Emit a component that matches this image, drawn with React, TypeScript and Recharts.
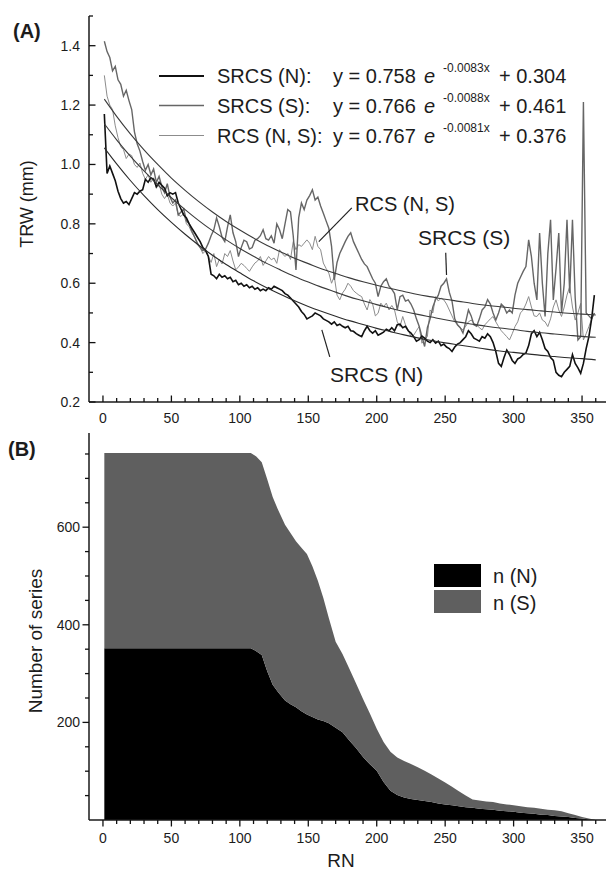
import React from 'react';
import { LineChart, Line, XAxis, YAxis, ReferenceLine, AreaChart, Area } from 'recharts';

const FONT = '"Liberation Sans", Arial, Helvetica, sans-serif';
const TEXT = '#1c1c1c';
const AXIS = '#1a1a1a';

// ---------- shared axis data ----------
const X_DOMAIN: [number, number] = [-10.2, 367.5];
const X_TICKS = [0, 10, 20, 30, 40, 50, 60, 70, 80, 90, 100, 110, 120, 130, 140, 150, 160, 170, 180, 190, 200, 210, 220, 230, 240, 250, 260, 270, 280, 290, 300, 310, 320, 330, 340, 350, 360];
const X_LABELS = [0, 50, 100, 150, 200, 250, 300, 350];

// ---------- panel A ----------
const A_Y_DOMAIN: [number, number] = [0.2, 1.5];
const A_Y_TICKS = [0.2, 0.3, 0.4, 0.5, 0.6, 0.7, 0.8, 0.9, 1.0, 1.1, 1.2, 1.3, 1.4, 1.5];
const A_Y_LABELS = [0.2, 0.4, 0.6, 0.8, 1.0, 1.2, 1.4];

// ring-width series, RN = 1, 3, 5, ... 359
const SRCS_N = [
  1.17, 0.97, 0.995, 0.97, 0.945, 0.91, 0.885, 0.87, 0.875, 0.865,
  0.885, 0.905, 0.9, 0.91, 0.915, 0.95, 0.94, 0.955, 0.95, 0.925,
  0.94, 0.93, 0.92, 0.895, 0.905, 0.9, 0.905, 0.87, 0.85, 0.83,
  0.82, 0.8, 0.785, 0.77, 0.755, 0.74, 0.72, 0.71, 0.69, 0.63,
  0.625, 0.615, 0.63, 0.62, 0.625, 0.615, 0.62, 0.605, 0.61, 0.595,
  0.6, 0.59, 0.595, 0.585, 0.59, 0.58, 0.585, 0.575, 0.58, 0.575,
  0.585, 0.58, 0.59, 0.585, 0.58, 0.575, 0.565, 0.56, 0.55, 0.54,
  0.53, 0.52, 0.505, 0.495, 0.48, 0.485, 0.49, 0.5, 0.495, 0.49,
  0.48, 0.475, 0.47, 0.462, 0.47, 0.458, 0.462, 0.455, 0.45, 0.455,
  0.44, 0.438, 0.43, 0.425, 0.42, 0.44, 0.455, 0.44, 0.432, 0.44,
  0.425, 0.43, 0.435, 0.445, 0.44, 0.45, 0.44, 0.46, 0.462, 0.45,
  0.455, 0.44, 0.432, 0.42, 0.405, 0.41, 0.422, 0.415, 0.405, 0.4,
  0.41, 0.398, 0.405, 0.39, 0.395, 0.385, 0.38, 0.37, 0.385, 0.395,
  0.4, 0.41, 0.42, 0.44, 0.43, 0.415, 0.41, 0.405, 0.42, 0.415,
  0.43, 0.42, 0.4, 0.37, 0.33, 0.32, 0.35, 0.375, 0.36, 0.34,
  0.33, 0.345, 0.35, 0.36, 0.365, 0.39, 0.43, 0.44, 0.42, 0.435,
  0.41, 0.38, 0.37, 0.35, 0.34, 0.3, 0.29, 0.285, 0.3, 0.31,
  0.32, 0.36, 0.33, 0.315, 0.297, 0.33, 0.38, 0.42, 0.48, 0.56,
];

const SRCS_S = [
  1.415, 1.38, 1.36, 1.315, 1.33, 1.285, 1.27, 1.23, 1.25, 1.215,
  1.185, 1.11, 1.07, 1.045, 1.01, 0.98, 1.0, 0.965, 0.985, 0.94,
  0.96, 0.925, 0.905, 0.935, 0.89, 0.87, 0.88, 0.83, 0.84, 0.85,
  0.81, 0.8, 0.775, 0.755, 0.735, 0.72, 0.71, 0.715, 0.735, 0.76,
  0.78, 0.82, 0.79, 0.755, 0.74, 0.79, 0.83, 0.77, 0.74, 0.69,
  0.72, 0.745, 0.74, 0.715, 0.72, 0.745, 0.75, 0.76, 0.78, 0.75,
  0.745, 0.76, 0.735, 0.8, 0.78, 0.75, 0.8, 0.848, 0.84, 0.76,
  0.645, 0.82, 0.87, 0.848, 0.88, 0.895, 0.915, 0.88, 0.89, 0.86,
  0.836, 0.81, 0.785, 0.724, 0.611, 0.67, 0.7, 0.72, 0.74, 0.758,
  0.77, 0.74, 0.72, 0.7, 0.68, 0.665, 0.656, 0.635, 0.615, 0.6,
  0.555, 0.59, 0.605, 0.615, 0.59, 0.58, 0.565, 0.51, 0.555, 0.56,
  0.54, 0.544, 0.53, 0.51, 0.48, 0.455, 0.42, 0.387, 0.45, 0.48,
  0.52, 0.545, 0.56, 0.59, 0.6, 0.615, 0.57, 0.54, 0.48, 0.46,
  0.45, 0.432, 0.47, 0.51, 0.49, 0.46, 0.455, 0.48, 0.51, 0.52,
  0.545, 0.53, 0.5, 0.476, 0.5, 0.53, 0.52, 0.5, 0.51, 0.5,
  0.56, 0.6, 0.62, 0.64, 0.656, 0.746, 0.69, 0.6, 0.544, 0.769,
  0.6, 0.488, 0.7, 0.814, 0.544, 0.65, 0.769, 0.5, 0.6, 0.814,
  0.566, 0.814, 0.55, 0.409, 0.42, 1.21, 0.5, 0.49, 0.48, 0.5,
];

const RCS_NS = [
  1.3, 1.23, 1.2, 1.185, 1.13, 1.09, 1.06, 1.05, 1.02, 1.035,
  1.03, 1.0, 0.99, 1.005, 0.97, 0.95, 0.965, 0.94, 0.955, 0.92,
  0.935, 0.9, 0.885, 0.9, 0.87, 0.86, 0.87, 0.83, 0.825, 0.835,
  0.8, 0.79, 0.77, 0.755, 0.73, 0.72, 0.7, 0.71, 0.69, 0.67,
  0.7, 0.656, 0.68, 0.665, 0.7, 0.69, 0.71, 0.675, 0.645, 0.655,
  0.667, 0.66, 0.65, 0.64, 0.655, 0.668, 0.675, 0.69, 0.66, 0.675,
  0.69, 0.679, 0.685, 0.667, 0.713, 0.7, 0.69, 0.7, 0.68, 0.74,
  0.713, 0.73, 0.724, 0.735, 0.746, 0.735, 0.713, 0.758, 0.724, 0.713,
  0.668, 0.65, 0.634, 0.6, 0.623, 0.56, 0.544, 0.567, 0.58, 0.6,
  0.59, 0.575, 0.567, 0.56, 0.555, 0.53, 0.51, 0.545, 0.53, 0.49,
  0.499, 0.533, 0.52, 0.533, 0.51, 0.525, 0.51, 0.47, 0.454, 0.488,
  0.46, 0.443, 0.42, 0.425, 0.44, 0.454, 0.398, 0.41, 0.42, 0.51,
  0.5, 0.555, 0.54, 0.55, 0.544, 0.53, 0.51, 0.49, 0.47, 0.46,
  0.45, 0.443, 0.455, 0.47, 0.476, 0.465, 0.46, 0.45, 0.443, 0.46,
  0.47, 0.48, 0.488, 0.47, 0.454, 0.44, 0.43, 0.42, 0.409, 0.43,
  0.454, 0.47, 0.5, 0.51, 0.53, 0.555, 0.52, 0.49, 0.488, 0.5,
  0.476, 0.47, 0.454, 0.48, 0.52, 0.544, 0.51, 0.488, 0.52, 0.56,
  0.589, 0.52, 0.476, 0.5, 0.532, 0.409, 0.43, 0.454, 0.48, 0.5,
];

// fitted curves read at RN = 1, 10, 20 ... 360
const FIT_RN = [1, 10, 20, 30, 40, 50, 60, 70, 80, 90, 100, 110, 120, 130, 140, 150, 160, 170, 180, 190, 200, 210, 220, 230, 240, 250, 260, 270, 280, 290, 300, 310, 320, 330, 340, 350, 360];
const FIT_N = [1.056, 1.002, 0.946, 0.895, 0.848, 0.805, 0.765, 0.728, 0.694, 0.663, 0.635, 0.608, 0.584, 0.562, 0.541, 0.522, 0.505, 0.489, 0.474, 0.461, 0.448, 0.437, 0.426, 0.416, 0.407, 0.399, 0.392, 0.385, 0.378, 0.372, 0.367, 0.362, 0.357, 0.353, 0.349, 0.346, 0.342];
const FIT_S = [1.22, 1.162, 1.103, 1.049, 1.0, 0.954, 0.913, 0.875, 0.84, 0.808, 0.779, 0.752, 0.727, 0.705, 0.684, 0.666, 0.648, 0.633, 0.618, 0.605, 0.593, 0.582, 0.572, 0.562, 0.554, 0.546, 0.539, 0.532, 0.526, 0.521, 0.516, 0.511, 0.507, 0.503, 0.499, 0.496, 0.493];
const FIT_NS = [1.137, 1.083, 1.028, 0.978, 0.931, 0.888, 0.848, 0.811, 0.777, 0.746, 0.717, 0.691, 0.666, 0.644, 0.623, 0.604, 0.586, 0.57, 0.554, 0.541, 0.528, 0.516, 0.505, 0.495, 0.486, 0.477, 0.469, 0.462, 0.455, 0.449, 0.444, 0.438, 0.433, 0.429, 0.425, 0.421, 0.418];

// ---------- panel B ----------
const B_Y_DOMAIN: [number, number] = [0, 793];
const B_Y_TICKS = [50, 100, 150, 200, 250, 300, 350, 400, 450, 500, 550, 600, 650, 700, 750];
const B_Y_LABELS = [200, 400, 600];
const B_RN = [1, 108, 112, 116, 120, 124, 128, 133, 137, 141, 145, 149, 153, 157, 161, 165, 170, 175, 180, 185, 190, 195, 200, 205, 210, 215, 220, 225, 230, 235, 240, 245, 250, 255, 260, 265, 270, 275, 280, 285, 290, 295, 300, 305, 310, 315, 320, 325, 330, 335, 340, 345, 350, 355, 360];
const COUNT_N = [352, 352, 346, 338, 305, 277, 262, 245, 237, 231, 223, 216, 211, 206, 203, 198, 189, 180, 163, 147, 129, 114, 101, 78, 60, 51, 46, 43, 41, 39, 37, 34, 32, 30, 28, 26, 25, 23, 22, 21, 19, 18, 17, 15, 14, 13, 11, 10, 8, 7, 6, 4, 3, 1, 0];
const COUNT_S = [400, 400, 399, 395, 393, 385, 373, 360, 351, 340, 335, 329, 309, 284, 252, 216, 176, 160, 147, 132, 119, 104, 86, 82, 80, 77, 75, 72, 67, 62, 56, 51, 45, 38, 31, 24, 17, 17, 16, 16, 15, 14, 13, 13, 12, 12, 12, 11, 12, 11, 8, 6, 3, 2, 0];

// ---------- tables built from the arrays ----------
const toRows = (vals: number[]) => vals.map((v, i) => ({ x: 1 + 2 * i, v }));
const rowsN = toRows(SRCS_N);
const rowsS = toRows(SRCS_S);
const rowsNS = toRows(RCS_NS);
const fitRows = (vals: number[]) => FIT_RN.map((x, i) => ({ x, v: vals[i] }));
const fitN = fitRows(FIT_N);
const fitS = fitRows(FIT_S);
const fitNS = fitRows(FIT_NS);
const areaRows = B_RN.map((x, i) => ({ x, nN: COUNT_N[i], nS: COUNT_S[i] }));

const near = (list: number[], v: number) => list.some((l) => Math.abs(l - v) < 1e-6);

const makeXTick = (dir: number, labelDy: number | null) => (p: any) => {
  const v = Number(p.payload?.value);
  const major = near(X_LABELS, v);
  const len = major ? 6.5 : 4;
  return (
    <g>
      <line x1={p.x} x2={p.x} y1={p.y} y2={p.y + dir * len} stroke="#111" strokeWidth={1.3} />
      {labelDy !== null && major ? (
        <text x={p.x} y={p.y + labelDy} textAnchor="middle" fontSize={14} fontFamily={FONT} fill={TEXT}>
          {v}
        </text>
      ) : null}
    </g>
  );
};

const makeYTick = (dir: number, labels: number[], fmt: ((v: number) => string) | null) => (p: any) => {
  const v = Number(p.payload?.value);
  const major = near(labels, v);
  const len = major ? 6.5 : 4;
  return (
    <g>
      <line x1={p.x} x2={p.x + dir * len} y1={p.y} y2={p.y} stroke="#111" strokeWidth={1.3} />
      {fmt && major ? (
        <text x={80} y={p.y + 5} textAnchor="end" fontSize={14} fontFamily={FONT} fill={TEXT}>
          {fmt(v)}
        </text>
      ) : null}
    </g>
  );
};

const axisLine = { stroke: AXIS, strokeWidth: 1.5 };

function PanelA() {
  return (
    <LineChart width={608} height={432} margin={{ top: 16, right: 2, bottom: 0, left: 39 }}>
      <XAxis xAxisId="b" type="number" dataKey="x" domain={X_DOMAIN} allowDataOverflow ticks={X_TICKS} interval={0}
        tickLine={false} tickSize={0} tickMargin={0} height={30} axisLine={axisLine} tick={makeXTick(-1, 21)} />
      <XAxis xAxisId="t" orientation="top" type="number" dataKey="x" domain={X_DOMAIN} allowDataOverflow ticks={X_TICKS} interval={0}
        tickLine={false} tickSize={0} tickMargin={0} height={0} axisLine={axisLine} tick={makeXTick(1, null)} />
      <YAxis yAxisId="l" type="number" domain={A_Y_DOMAIN} allowDataOverflow ticks={A_Y_TICKS} interval={0}
        tickLine={false} tickSize={0} tickMargin={0} width={50} axisLine={axisLine} tick={makeYTick(1, A_Y_LABELS, (v) => v.toFixed(1))} />
      <YAxis yAxisId="r" orientation="right" type="number" domain={A_Y_DOMAIN} allowDataOverflow ticks={A_Y_TICKS} interval={0}
        tickLine={false} tickSize={0} tickMargin={0} width={0} axisLine={axisLine} tick={makeYTick(-1, A_Y_LABELS, null)} />

      <Line xAxisId="b" yAxisId="l" data={rowsNS} dataKey="v" type="linear" stroke="#8c8c8c" strokeWidth={1} dot={false} activeDot={false} isAnimationActive={false} />
      <Line xAxisId="b" yAxisId="l" data={rowsS} dataKey="v" type="linear" stroke="#666666" strokeWidth={1.4} dot={false} activeDot={false} isAnimationActive={false} />
      <Line xAxisId="b" yAxisId="l" data={rowsN} dataKey="v" type="linear" stroke="#111111" strokeWidth={1.6} dot={false} activeDot={false} isAnimationActive={false} />

      <Line xAxisId="b" yAxisId="l" data={fitS} dataKey="v" type="monotone" stroke="#3a3a3a" strokeWidth={1.1} dot={false} activeDot={false} isAnimationActive={false} />
      <Line xAxisId="b" yAxisId="l" data={fitNS} dataKey="v" type="monotone" stroke="#3a3a3a" strokeWidth={1.1} dot={false} activeDot={false} isAnimationActive={false} />
      <Line xAxisId="b" yAxisId="l" data={fitN} dataKey="v" type="monotone" stroke="#2a2a2a" strokeWidth={1.1} dot={false} activeDot={false} isAnimationActive={false} />

      <ReferenceLine xAxisId="b" yAxisId="l" segment={[{ x: 181.8, y: 0.854 }, { x: 157.7, y: 0.74 }]} stroke="#222" strokeWidth={1.2} ifOverflow="visible" />
      <ReferenceLine xAxisId="b" yAxisId="l" segment={[{ x: 250.4, y: 0.703 }, { x: 251, y: 0.628 }]} stroke="#222" strokeWidth={1.2} ifOverflow="visible" />
      <ReferenceLine xAxisId="b" yAxisId="l" segment={[{ x: 159.9, y: 0.443 }, { x: 165.7, y: 0.352 }]} stroke="#222" strokeWidth={1.2} ifOverflow="visible" />
    </LineChart>
  );
}

function PanelB() {
  return (
    <AreaChart width={608} height={441} data={areaRows} margin={{ top: 1, right: 2, bottom: 0, left: 39 }}>
      <XAxis xAxisId="b" type="number" dataKey="x" domain={X_DOMAIN} allowDataOverflow ticks={X_TICKS} interval={0}
        tickLine={false} tickSize={0} tickMargin={0} height={53} axisLine={axisLine} tick={makeXTick(1, 22.5)} />
      <XAxis xAxisId="t" orientation="top" type="number" dataKey="x" domain={X_DOMAIN} allowDataOverflow ticks={X_TICKS} interval={0}
        tickLine={false} tickSize={0} tickMargin={0} height={0} axisLine={axisLine} tick={makeXTick(1, null)} />
      <YAxis yAxisId="l" type="number" domain={B_Y_DOMAIN} allowDataOverflow ticks={B_Y_TICKS} interval={0}
        tickLine={false} tickSize={0} tickMargin={0} width={50} axisLine={axisLine} tick={makeYTick(-1, B_Y_LABELS, (v) => String(v))} />
      <YAxis yAxisId="r" orientation="right" type="number" domain={B_Y_DOMAIN} allowDataOverflow ticks={B_Y_TICKS} interval={0}
        tickLine={false} tickSize={0} tickMargin={0} width={0} axisLine={axisLine} tick={makeYTick(-1, B_Y_LABELS, null)} />
      <Area xAxisId="b" yAxisId="l" dataKey="nN" stackId="n" type="linear" stroke="none" fill="#000000" fillOpacity={1} dot={false} activeDot={false} isAnimationActive={false} />
      <Area xAxisId="b" yAxisId="l" dataKey="nS" stackId="n" type="linear" stroke="none" fill="#5f5f5f" fillOpacity={1} dot={false} activeDot={false} isAnimationActive={false} />
    </AreaChart>
  );
}

const EQUATIONS = [
  { label: 'SRCS (N):', a: 'y = 0.758', b: '-0.0083x', c: '+ 0.304', color: '#111111', w: 2 },
  { label: 'SRCS (S):', a: 'y = 0.766', b: '-0.0088x', c: '+ 0.461', color: '#666666', w: 1.6 },
  { label: 'RCS (N, S):', a: 'y = 0.767', b: '-0.0081x', c: '+ 0.376', color: '#8c8c8c', w: 1.2 },
];
const EQ_BASE = [83, 112.5, 142.5];

function Overlay() {
  const t = { fontFamily: FONT, fill: TEXT } as const;
  return (
    <svg width={608} height={873} style={{ position: 'absolute', left: 0, top: 0, pointerEvents: 'none' }}>
      <text x={13} y={38} fontSize={20} fontWeight="bold" {...t}>(A)</text>
      <text x={8} y={456} fontSize={20} fontWeight="bold" {...t}>(B)</text>

      {EQUATIONS.map((e, i) => (
        <g key={e.label}>
          <line x1={159} x2={204} y1={EQ_BASE[i] - 7} y2={EQ_BASE[i] - 7} stroke={e.color} strokeWidth={e.w} />
          <text x={217} y={EQ_BASE[i]} fontSize={20} {...t}>{e.label}</text>
          <text x={333} y={EQ_BASE[i]} fontSize={20} {...t}>{e.a}</text>
          <text x={424} y={EQ_BASE[i]} fontSize={20} fontStyle="italic" {...t}>e</text>
          <text x={443} y={EQ_BASE[i] - 11} fontSize={12} {...t}>{e.b}</text>
          <text x={499} y={EQ_BASE[i]} fontSize={20} {...t}>{e.c}</text>
        </g>
      ))}

      <text x={355} y={211} fontSize={20} {...t}>RCS (N, S)</text>
      <text x={418} y={245} fontSize={21} {...t}>SRCS (S)</text>
      <text x={330} y={382} fontSize={21} {...t}>SRCS (N)</text>

      <text transform="translate(33,204) rotate(-90)" textAnchor="middle" fontSize={18} {...t}>TRW (mm)</text>
      <text transform="translate(42,641) rotate(-90)" textAnchor="middle" fontSize={19} {...t}>Number of series</text>
      <text x={341} y={867} textAnchor="middle" fontSize={19} {...t}>RN</text>

      <rect x={434} y={564} width={47} height={23} fill="#000000" />
      <rect x={434} y={590} width={47} height={23} fill="#5f5f5f" />
      <text x={493} y={583} fontSize={20} {...t}>n (N)</text>
      <text x={493} y={610} fontSize={20} {...t}>n (S)</text>
    </svg>
  );
}

export default function App() {
  return (
    <div style={{ position: 'absolute', left: 0, top: 0, width: 608, height: 873, background: '#ffffff', overflow: 'hidden' }}>
      <div style={{ position: 'absolute', left: 0, top: 0 }}>
        <PanelA />
      </div>
      <div style={{ position: 'absolute', left: 0, top: 432 }}>
        <PanelB />
      </div>
      <Overlay />
    </div>
  );
}
